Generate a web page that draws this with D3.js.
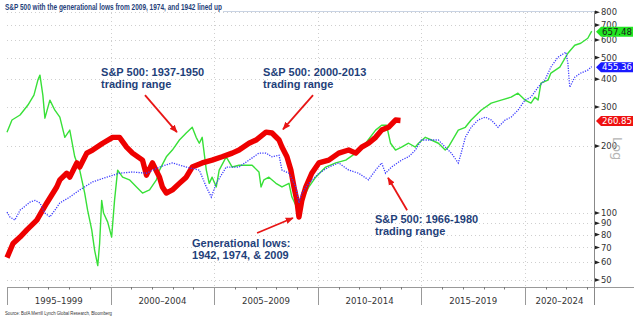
<!DOCTYPE html>
<html>
<head>
<meta charset="utf-8">
<script src="https://cdn.jsdelivr.net/npm/d3@7"></script>
<style>
  html, body { margin: 0; padding: 0; background: #fff; }
  svg { display: block; }
</style>
</head>
<body>
<svg id="chart" width="641" height="324"></svg>
<script>
// ---------------- DATA ----------------
// [decimal year on the 1995-2024 axis, index level]
const greenSeries = [
  [1995.00,231],[1995.24,262],[1995.63,276],[1996.01,306],[1996.30,339],[1996.49,396],[1996.59,417],
  [1996.73,339],[1996.83,267],[1997.07,322],[1997.31,290],[1997.55,270],[1997.79,219],[1998.03,236],
  [1998.27,179],[1998.51,156],[1998.75,123],[1998.89,103],[1999.09,84],[1999.23,68],[1999.38,58],
  [1999.47,73],[1999.57,114],[1999.66,100],[1999.86,91],[2000.05,78],[2000.19,114],[2000.34,156],
  [2000.58,145],[2000.91,141],[2001.25,131],[2001.54,123],[2001.88,127],[2002.21,141],[2002.36,156],
  [2002.69,179],[2002.98,192],[2003.32,213],[2003.65,229],[2003.94,243],[2004.13,219],[2004.28,206],
  [2004.42,219],[2004.62,156],[2004.76,136],[2004.90,145],[2005.10,131],[2005.24,156],[2005.58,179],
  [2005.87,161],[2006.20,164],[2006.54,164],[2006.83,164],[2007.16,153],[2007.26,131],[2007.40,141],
  [2007.64,145],[2007.98,136],[2008.27,131],[2008.61,136],[2008.75,118],[2008.99,106],[2009.23,114],
  [2009.57,131],[2009.90,145],[2010.38,161],[2010.87,168],[2011.35,173],[2011.83,186],[2012.31,206],
  [2012.79,236],[2013.08,248],[2013.32,248],[2013.51,206],[2013.75,192],[2014.04,198],[2014.38,206],
  [2014.71,198],[2014.86,206],[2015.19,219],[2015.48,213],[2015.82,206],[2016.15,192],[2016.30,198],
  [2016.78,236],[2017.12,243],[2017.40,262],[2017.88,290],[2018.37,312],[2018.85,322],[2019.33,332],
  [2019.66,346],[2020.00,322],[2020.29,312],[2020.48,332],[2020.63,322],[2020.77,384],[2021.11,396],
  [2021.25,426],[2021.68,453],[2022.07,523],[2022.40,568],[2022.69,580],[2023.03,611],[2023.22,657.48]
];
const blueSeries = [
  [1995.00,101],[1995.14,96],[1995.38,93],[1995.63,103],[1996.11,112],[1996.35,114],[1996.59,111],
  [1996.83,100],[1997.07,96],[1997.31,103],[1997.55,111],[1998.03,118],[1998.51,127],[1999.13,138],
  [1999.81,145],[2000.43,151],[2001.06,153],[2001.73,151],[2002.36,161],[2002.98,168],[2003.65,161],
  [2004.28,156],[2004.62,131],[2004.86,118],[2005.10,136],[2005.58,161],[2006.20,161],[2006.68,173],
  [2007.16,186],[2007.50,186],[2007.79,179],[2008.13,182],[2008.27,156],[2008.61,151],[2008.94,131],
  [2009.09,111],[2009.23,123],[2009.57,136],[2010.05,151],[2010.53,161],[2011.01,168],[2011.49,156],
  [2011.97,151],[2012.45,141],[2012.79,156],[2013.08,168],[2013.27,151],[2013.56,161],[2014.04,173],
  [2014.38,179],[2014.71,192],[2015.00,213],[2015.48,213],[2015.82,213],[2016.15,198],[2016.44,186],
  [2016.78,168],[2016.92,186],[2017.12,219],[2017.40,243],[2017.74,262],[2018.08,270],[2018.37,262],
  [2018.70,243],[2019.04,262],[2019.33,270],[2019.66,290],[2020.00,322],[2020.29,332],[2020.63,368],
  [2020.96,396],[2021.25,453],[2021.59,502],[2021.97,529],[2022.07,472],[2022.16,368],[2022.40,408],
  [2022.69,426],[2023.03,439],[2023.22,455.36]
];
const redSeries = [
  [1995.00,63],[1995.29,73],[1995.63,78],[1995.96,84],[1996.44,93],[1996.92,111],[1997.40,131],
  [1997.55,141],[1997.88,151],[1998.03,145],[1998.37,168],[1998.51,161],[1998.85,186],[1999.13,192],
  [1999.62,206],[2000.10,219],[2000.43,219],[2000.77,198],[2001.06,186],[2001.54,173],[2001.73,148],
  [2002.02,168],[2002.36,145],[2002.50,131],[2002.69,123],[2002.98,127],[2003.32,136],[2003.65,145],
  [2003.94,161],[2004.42,168],[2004.90,173],[2005.38,179],[2005.87,186],[2006.20,192],[2006.68,206],
  [2007.02,213],[2007.50,231],[2007.79,229],[2008.13,213],[2008.27,198],[2008.51,179],[2008.70,156],
  [2008.85,131],[2008.99,114],[2009.09,96],[2009.23,114],[2009.42,131],[2009.71,151],[2010.05,168],
  [2010.53,173],[2011.01,186],[2011.49,192],[2011.83,186],[2012.12,198],[2012.45,206],[2012.79,219],
  [2013.08,236],[2013.41,243],[2013.75,262],[2013.99,260.85]
];
const lastValues = [
  {value: 657.48, label: "657.48", fill: "#22e622", text: "#1a1a1a"},
  {value: 455.36, label: "455.36", fill: "#1a1aff", text: "#ffffff"},
  {value: 260.85, label: "260.85", fill: "#ee1111", text: "#ffffff"}
];
const yTicks = [50, 60, 70, 80, 90, 100, 200, 300, 400, 500, 600, 700, 800];
const periodStarts = [1995, 2000, 2005, 2010, 2015, 2020];
const periodLabels = ["1995\u20131999", "2000\u20132004", "2005\u20132009", "2010\u20132014", "2015\u20132019", "2020\u20132024"];
const annotations = [
  {lines: ["S&P 500: 1937-1950", "trading range"], year: 1999.54, value: 412},
  {lines: ["S&P 500: 2000-2013", "trading range"], year: 2007.36, value: 412},
  {lines: ["Generational lows:", "1942, 1974, & 2009"], year: 2003.93, value: 70.4},
  {lines: ["S&P 500: 1966-1980", "trading range"], year: 2012.76, value: 90.2}
];
const arrows = [
  {from: [2001.66, 339], to: [2003.20, 231]},
  {from: [2009.77, 339], to: [2008.32, 238]},
  {from: [2007.07, 81.3], to: [2008.80, 95]},
  {from: [2014.31, 103], to: [2013.39, 144]}
];
const titleText = "S&P 500 with the generational lows from 2009, 1974, and 1942 lined up";
const sourceText = "Source: BofA Merrill Lynch Global Research, Bloomberg";

// ---------------- LAYOUT ----------------
(function () {
const svg = d3.select("#chart");
const pL = 7, pR = 594, pT = 11, pB = 287;
const x = d3.scaleLinear().domain([1995, 2023.33]).range([pL, pR]);
const y = d3.scaleLog().domain([46.5, 810]).range([pB, pT]);

// title
svg.append("text")
  .attr("x", 5).attr("y", 9.5)
  .attr("font-family", "'Liberation Sans', Arial, sans-serif")
  .attr("font-weight", "bold").attr("font-size", 9.5)
  .attr("fill", "#1f3f7a")
  .attr("textLength", 217).attr("lengthAdjust", "spacingAndGlyphs")
  .text(titleText);
svg.append("line").attr("x1", 223).attr("x2", pR).attr("y1", 11.5).attr("y2", 11.5)
  .attr("stroke", "#c9d3e3").attr("stroke-width", 1);

// grid
const grid = svg.append("g").attr("stroke", "#cfcfcf").attr("stroke-width", 1).attr("stroke-dasharray", "1,3");
grid.selectAll("line.h").data(yTicks).join("line")
  .attr("x1", pL).attr("x2", pR)
  .attr("y1", d => Math.round(y(d)) + 0.5).attr("y2", d => Math.round(y(d)) + 0.5);
grid.selectAll("line.v").data(periodStarts.slice(1)).join("line")
  .attr("x1", d => Math.round(x(d)) + 0.5).attr("x2", d => Math.round(x(d)) + 0.5)
  .attr("y1", pT + 2).attr("y2", pB);

// x axis
const xa = svg.append("g").attr("stroke", "#999").attr("stroke-width", 1);
xa.append("line").attr("x1", pL).attr("x2", pR + 40).attr("y1", pB + 0.5).attr("y2", pB + 0.5);
xa.selectAll("line.b").data(periodStarts).join("line")
  .attr("x1", d => Math.round(x(d)) + 0.5).attr("x2", d => Math.round(x(d)) + 0.5)
  .attr("y1", pB).attr("y2", 305);
const years = d3.range(1996, 2024).filter(yr => yr % 5 !== 0);
xa.selectAll("line.m").data(years).join("line")
  .attr("x1", d => Math.round(x(d)) + 0.5).attr("x2", d => Math.round(x(d)) + 0.5)
  .attr("y1", pB).attr("y2", pB + 2.5).attr("stroke", "#777");
svg.append("g").selectAll("text").data(periodLabels).join("text")
  .attr("x", (d, i) => (x(periodStarts[i]) + Math.min(x(periodStarts[i] + 5), pR)) / 2)
  .attr("y", 303.5)
  .attr("text-anchor", "middle")
  .attr("font-family", "'DejaVu Sans', sans-serif").attr("font-size", 8.6)
  .attr("fill", "#333")
  .text(d => d);

// right axis
svg.append("line").attr("x1", pR + 0.5).attr("x2", pR + 0.5).attr("y1", pT).attr("y2", 305)
  .attr("stroke", "#888").attr("stroke-width", 1);
const yt = svg.append("g");
yt.selectAll("path").data(yTicks).join("path")
  .attr("d", d => { const yy = y(d); return `M${pR + 1},${yy - 1.8}L${pR + 6},${yy}L${pR + 1},${yy + 1.8}Z`; })
  .attr("fill", "#222");
yt.selectAll("text").data(yTicks).join("text")
  .attr("x", pR + 7).attr("y", d => y(d)).attr("dy", "0.36em")
  .attr("font-family", "'DejaVu Sans', sans-serif").attr("font-size", 8.4)
  .attr("fill", "#333")
  .text(d => d);

// "Log"
svg.append("text")
  .attr("transform", `translate(613,${y(200) - 9}) rotate(90)`)
  .attr("font-family", "'DejaVu Sans', sans-serif").attr("font-size", 13)
  .attr("fill", "#b5b5b5")
  .text("Log");

// series
const line = d3.line().x(d => x(d[0])).y(d => y(d[1]));
svg.append("path").datum(greenSeries).attr("d", line)
  .attr("fill", "none").attr("stroke", "#38e038").attr("stroke-width", 1.4).attr("stroke-linejoin", "round");
svg.append("path").datum(redSeries).attr("d", line)
  .attr("fill", "none").attr("stroke", "#ee0000").attr("stroke-width", 5.4).attr("stroke-linejoin", "round");
svg.append("path").datum(blueSeries).attr("d", line)
  .attr("fill", "none").attr("stroke", "#3a3aff").attr("stroke-width", 1.3)
  .attr("stroke-dasharray", "1.2,1.3");

// last value tags
const tags = svg.append("g").selectAll("g").data(lastValues).join("g")
  .attr("transform", d => `translate(${pR + 2},${y(d.value) + 0.5})`);
tags.append("path").attr("d", "M0,0L5,-5L37,-5L37,5L5,5Z").attr("fill", d => d.fill);
tags.append("text").attr("x", 21).attr("y", 0).attr("dy", "0.36em").attr("text-anchor", "middle")
  .attr("font-family", "'DejaVu Sans', sans-serif").attr("font-size", 8.6)
  .attr("fill", d => d.text).text(d => d.label);

// annotations
const ann = svg.append("g").selectAll("text").data(annotations).join("text")
  .attr("x", d => x(d.year)).attr("y", d => y(d.value))
  .attr("font-family", "'Liberation Sans', Arial, sans-serif")
  .attr("font-weight", "bold").attr("font-size", 11)
  .attr("fill", "#1f3f7a");
ann.selectAll("tspan").data(d => d.lines.map(l => ({l, x: x(d.year)}))).join("tspan")
  .attr("x", d => d.x).attr("dy", (d, i) => i === 0 ? 0 : 12)
  .text(d => d.l);

// arrows
const defs = svg.append("defs");
defs.append("marker").attr("id", "ah").attr("viewBox", "0 0 10 8")
  .attr("refX", 9).attr("refY", 4).attr("markerWidth", 8).attr("markerHeight", 7)
  .attr("markerUnits", "userSpaceOnUse").attr("orient", "auto")
  .append("path").attr("d", "M0,0L10,4L0,8Z").attr("fill", "#e81515");
svg.append("g").selectAll("line").data(arrows).join("line")
  .attr("x1", d => x(d.from[0])).attr("y1", d => y(d.from[1]))
  .attr("x2", d => x(d.to[0])).attr("y2", d => y(d.to[1]))
  .attr("stroke", "#e81515").attr("stroke-width", 1.8)
  .attr("marker-end", "url(#ah)");

// source
svg.append("text").attr("x", 5).attr("y", 314.5)
  .attr("font-family", "'Liberation Sans', Arial, sans-serif").attr("font-size", 5.8)
  .attr("fill", "#333")
  .attr("textLength", 107).attr("lengthAdjust", "spacingAndGlyphs")
  .text(sourceText);
})();
</script>
</body>
</html>
